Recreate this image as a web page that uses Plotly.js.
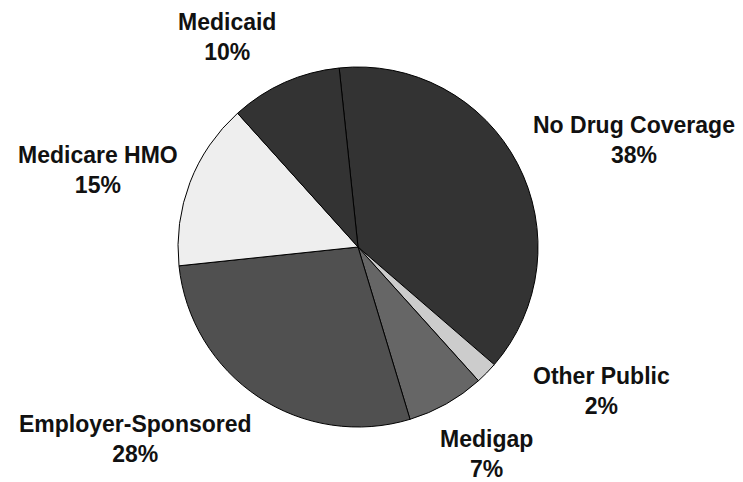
<!DOCTYPE html>
<html>
<head>
<meta charset="utf-8">
<script src="https://cdn.plot.ly/plotly-3.0.1.min.js"></script>
<style>html,body{margin:0;padding:0;background:#fff;}#chart{width:743px;height:482px;}</style>
</head>
<body>
<div id="chart"></div>
<script>
var labels = ["No Drug Coverage", "Other Public", "Medigap", "Employer-Sponsored", "Medicare HMO", "Medicaid"];
var values = [38, 2, 7, 28, 15, 10];
var colors = ["#333333", "#cccccc", "#666666", "#505050", "#eeeeee", "#333333"];
// label placement (pixel centers of label blocks)
var labelPos = [[634, 140], [601, 391], [486, 454], [135, 439], [98, 170], [227, 37]];

var W = 743, H = 482;
var annotations = labels.map(function (l, i) {
  return {
    text: "<b>" + l + "<br>" + values[i] + "%</b>",
    xref: "paper", yref: "paper",
    x: labelPos[i][0] / W, y: 1 - labelPos[i][1] / H,
    xanchor: "center", yanchor: "middle",
    showarrow: false, align: "center",
    font: {family: "Liberation Sans, Arial, sans-serif", size: 23, color: "#111111"}
  };
});

var trace = {
  type: "pie",
  labels: labels,
  values: values,
  sort: false,
  direction: "clockwise",
  rotation: -6,
  textinfo: "none",
  hoverinfo: "label+percent",
  marker: {colors: colors, line: {color: "#000000", width: 1}},
  domain: {x: [178 / W, 538 / W], y: [(H - 428) / H, (H - 66) / H]}
};

var layout = {
  width: W, height: H,
  margin: {l: 0, r: 0, t: 0, b: 0},
  showlegend: false,
  paper_bgcolor: "#ffffff",
  annotations: annotations
};

Plotly.newPlot("chart", [trace], layout, {displayModeBar: false, staticPlot: true});
</script>
</body>
</html>
